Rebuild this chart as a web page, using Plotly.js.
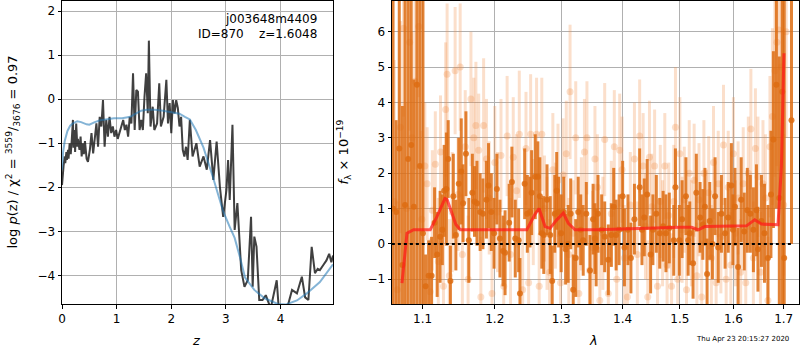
<!DOCTYPE html>
<html><head><meta charset="utf-8">
<script src="https://cdn.plot.ly/plotly-3.0.1.min.js"></script>
<style>html,body{margin:0;padding:0;background:#fff}#plot{width:800px;height:350px}</style>
</head><body><div id="plot"></div>
<script>
// ---- left panel: redshift PDF ----
const zGrid = [0.0,0.01,0.03,0.05,0.06,0.08,0.09,0.11,0.12,0.14,0.16,0.18,0.2,0.21,0.23,0.24,0.26,0.28,0.29,0.32,0.34,0.36,0.38,0.40,0.42,0.45,0.475,0.51,0.54,0.57,0.6,0.63,0.66,0.69,0.72,0.75,0.78,0.81,0.84,0.87,0.9,0.93,0.96,0.99,1.02,1.05,1.08,1.12,1.15,1.18,1.21,1.24,1.27,1.30,1.33,1.36,1.39,1.42,1.45,1.48,1.51,1.54,1.57,1.59,1.62,1.66,1.69,1.74,1.78,1.81,1.86,1.91,1.94,1.97,2.0,2.03,2.06,2.09,2.12,2.15,2.18,2.21,2.24,2.27,2.30,2.34,2.39,2.46,2.52,2.59,2.65,2.71,2.77,2.83,2.89,2.95,3.01,3.04,3.07,3.12,3.16,3.21,3.28,3.34,3.40,3.46,3.49,3.52,3.56,3.61,3.67,3.73,3.82,3.93,3.97,4.05,4.12,4.21,4.30,4.39,4.45,4.51,4.57,4.63,4.68,4.72,4.78,4.84,4.89,4.93,4.96];
const logPz = [-1.95,-1.7,-1.5,-1.3,-1.45,-1.2,-1.38,-1.15,-1.35,-1.0,-1.25,-0.9,-0.47,-1.1,-0.7,-1.2,-0.55,-1.08,-0.9,-1.15,-0.85,-1.3,-1.0,-1.25,-0.95,-1.35,-1.42,-1.15,-0.77,-1.23,-0.93,-0.55,-1.08,-0.4,-0.62,-0.02,-1.08,-0.47,-0.85,-0.4,-0.77,-0.62,-0.85,-0.7,-0.9,-0.77,-0.6,-0.47,-0.7,-0.58,-0.85,-0.4,-0.55,0.59,-0.7,0.21,0.17,-0.7,-0.47,-0.7,0.06,0.59,-0.32,1.33,-0.62,-0.17,-0.7,-0.55,0.36,-0.62,-0.4,0.44,-0.55,-0.09,-0.77,-0.02,-0.32,-0.02,-0.2,-0.62,-0.4,-1.15,-1.3,-1.08,-1.38,-0.47,-1.3,-1.0,-1.53,-1.30,-1.6,-0.93,-1.83,-0.96,-1.99,-2.67,-2.06,-1.38,-2.29,-0.58,-2.97,-2.36,-3.88,-4.26,-4.11,-2.67,-4.26,-3.12,-3.35,-4.56,-4.56,-4.45,-4.75,-4.11,-4.8,-4.8,-4.75,-4.33,-4.41,-4.03,-4.5,-4.56,-3.35,-3.95,-3.85,-3.88,-3.77,-3.66,-3.51,-3.7,-3.55];
const zSmooth = [0,0.02,0.05,0.1,0.15,0.2,0.28,0.35,0.45,0.5,0.6,0.7,0.8,0.95,1.1,1.25,1.35,1.45,1.55,1.7,1.85,2.0,2.15,2.25,2.34,2.45,2.59,2.77,2.95,3.07,3.16,3.26,3.35,3.52,3.71,3.95,4.1,4.3,4.48,4.72,4.9,4.96];
const logPzSmooth = [-1.6,-1.2,-0.95,-0.72,-0.6,-0.55,-0.5,-0.52,-0.57,-0.58,-0.52,-0.48,-0.46,-0.43,-0.43,-0.4,-0.33,-0.26,-0.24,-0.24,-0.26,-0.29,-0.33,-0.4,-0.46,-0.7,-1.1,-1.8,-2.55,-2.9,-3.15,-3.6,-4.05,-4.33,-4.52,-4.65,-4.66,-4.57,-4.41,-4.15,-3.85,-3.75];

// ---- right panel: spectrum ----
const lamD = [1.0615,1.0655,1.0695,1.0735,1.077,1.081,1.085,1.0885,1.0925,1.0965,1.1005,1.104,1.108,1.112,1.116,1.1195,1.1235,1.1265,1.129,1.132,1.1345,1.1375,1.1415,1.145,1.149,1.1525,1.155,1.159,1.163,1.168,1.171,1.1745,1.179,1.183,1.188,1.191,1.195,1.199,1.203,1.2075,1.212,1.215,1.221,1.225,1.23,1.235,1.237,1.244,1.248,1.252,1.2545,1.26,1.264,1.267,1.27,1.273,1.278,1.283,1.286,1.29,1.293,1.296,1.30,1.304,1.307,1.311,1.315,1.319,1.323,1.327,1.331,1.335,1.34,1.346,1.351,1.354,1.356,1.359,1.365,1.37,1.376,1.381,1.385,1.389,1.394,1.40,1.403,1.409,1.414,1.42,1.429,1.433,1.437,1.442,1.448,1.452,1.458,1.464,1.47,1.475,1.481,1.489,1.492,1.499,1.504,1.511,1.515,1.518,1.524,1.53,1.537,1.542,1.546,1.55,1.555,1.56,1.565,1.571,1.577,1.584,1.59,1.596,1.599,1.603,1.609,1.615,1.621,1.627,1.633,1.639,1.645,1.648,1.655,1.661,1.668,1.674,1.679,1.685,1.691,1.697,1.701,1.716];
const fluxD = [1.0,0.9,2.7,-0.6,1.1,2.4,2.8,1.05,4.5,2.2,0.3,-1.2,-0.9,-0.9,0.6,-0.3,0.2,0.4,1.5,1.55,2.4,-1.05,1.35,0.25,1.7,2.05,1.15,2.55,0.1,1.45,1.2,1.15,0.9,0.85,1.25,1.65,0.9,0.3,1.55,0.15,-0.2,-0.25,0.6,1.75,0.15,0.1,-1.4,1.7,0.85,0.9,1.45,1.9,1.9,1.35,0.3,0.25,1.25,0.25,-1.05,0.85,1.5,0.9,0.3,0.9,-0.15,0.0,0.85,-1.3,-0.4,0.9,0.4,0.1,0.85,-0.75,0.7,0.15,-0.1,0.85,0.4,0.2,-0.45,0.25,1.05,0.25,0.4,1.35,-0.1,0.4,-0.4,0.7,1.6,0.4,0.75,1.4,-0.3,0.4,0.85,0.3,0.5,0.3,0.45,0.1,1.6,0.1,0.7,1.35,0.1,0.3,-0.55,1.45,0.75,0.55,1.05,-0.85,0.65,0.0,1.35,-0.1,0.85,0.3,0.75,1.65,0.4,1.05,-0.65,1.25,0.35,0.95,0.85,0.4,0.95,-0.15,0.65,0.3,-0.4,1.4,2.95,4.5,1.3,4.3,-0.4,3.5];
const errD = [8.5,2.6,8.0,4.5,6.5,7.0,9.0,3.6,8.0,6.0,7.0,0.9,1.0,1.1,1.0,1.2,1.3,1.0,1.3,1.6,1.1,1.0,1.2,1.0,1.3,1.5,1.1,1.2,1.2,1.1,1.0,1.2,1.1,1.0,1.1,1.2,1.1,1.0,1.0,1.1,1.0,1.2,1.1,1.0,1.1,0.9,1.0,1.0,1.1,1.0,1.2,1.2,1.0,1.1,1.0,1.1,1.0,1.1,1.0,1.1,1.1,1.0,1.1,1.0,1.0,1.1,1.0,1.0,1.1,1.0,1.0,1.0,0.9,1.0,1.0,1.0,1.1,1.1,1.0,1.0,1.0,0.9,1.1,1.0,1.0,1.0,1.1,1.0,1.0,1.0,1.1,1.0,1.1,1.0,1.1,1.0,1.1,1.0,1.0,1.1,1.0,1.0,1.1,1.0,1.1,1.1,1.0,0.9,1.0,1.1,1.0,1.0,1.1,1.0,1.1,1.0,1.1,1.0,1.1,1.0,1.0,1.2,1.0,1.1,1.1,1.2,1.1,1.2,1.1,1.2,1.3,1.2,1.3,1.4,1.5,1.8,2.5,3.5,4.0,6.0,9.0,3.5];

const lamL = [1.063,1.067,1.071,1.075,1.079,1.083,1.086,1.09,1.095,1.099,1.103,1.106,1.11,1.113,1.117,1.121,1.124,1.128,1.131,1.133,1.136,1.14,1.144,1.148,1.151,1.154,1.158,1.162,1.166,1.17,1.173,1.177,1.18,1.184,1.188,1.192,1.196,1.20,1.204,1.209,1.213,1.218,1.223,1.227,1.232,1.236,1.241,1.246,1.25,1.253,1.257,1.262,1.266,1.27,1.274,1.278,1.282,1.287,1.291,1.295,1.299,1.303,1.308,1.312,1.314,1.319,1.323,1.328,1.332,1.337,1.341,1.345,1.35,1.354,1.358,1.362,1.367,1.37,1.376,1.381,1.386,1.39,1.395,1.399,1.403,1.408,1.413,1.42,1.425,1.429,1.435,1.439,1.443,1.446,1.45,1.455,1.46,1.465,1.469,1.473,1.477,1.48,1.485,1.489,1.492,1.496,1.50,1.504,1.508,1.512,1.517,1.521,1.526,1.531,1.535,1.54,1.544,1.549,1.553,1.558,1.562,1.567,1.571,1.576,1.581,1.586,1.59,1.595,1.60,1.604,1.609,1.614,1.619,1.624,1.629,1.634,1.639,1.643,1.648,1.653,1.658,1.663,1.668,1.672,1.677,1.682,1.686,1.69,1.695,1.70,1.705];
const fluxL = [1.2,-1.3,3.3,6.1,1.0,5.7,3.0,4.6,6.15,0.7,2.2,1.7,-1.35,0.95,2.25,-0.5,2.6,-1.2,3.8,4.8,-0.9,0.9,4.9,1.4,5.0,-0.3,2.75,-1.0,4.1,3.0,3.35,2.65,-1.5,3.35,2.4,1.3,-1.4,2.3,0.9,2.5,-1.2,3.05,-0.3,2.45,1.5,3.1,-1.3,2.7,-1.1,3.1,0.9,3.1,-1.2,3.1,1.0,0.3,-0.8,2.1,0.8,1.8,-1.1,1.95,2.55,-0.3,4.3,0.3,3.0,-1.4,0.85,2.6,3.0,-0.75,-0.1,2.4,1.6,-1.6,0.3,2.95,-1.4,0.85,2.75,-1.0,2.65,2.1,-0.4,-1.5,1.1,2.4,-0.3,3.05,2.2,0.5,-1.5,2.45,1.05,2.2,-1.2,1.2,0.3,2.2,-0.6,0.8,-1.2,1.2,3.3,-1.0,2.55,0.4,1.25,-1.3,2.0,0.3,1.8,-0.9,1.25,-1.5,2.0,0.6,1.45,-0.4,2.3,-1.1,1.7,0.2,2.8,-1.0,1.6,-0.6,2.55,0.3,1.3,-0.8,1.7,-1.1,2.0,3.25,-0.4,2.7,1.9,-0.8,1.7,1.3,-1.6,2.75,3.6,4.9,5.7,6.05,5.0,1.1,6.0];
const errL = [4,2.5,3,2.5,3,2.5,3,2.5,2,2.5,1.8,1.6,1.5,1.7,1.5,1.8,1.6,1.7,1.9,2.0,1.6,1.7,1.8,1.6,1.8,1.7,1.6,1.8,1.9,1.7,1.8,1.6,1.7,1.9,1.7,1.6,1.8,1.6,1.7,1.6,1.8,1.7,1.6,1.7,1.6,1.8,1.7,1.6,1.6,1.7,1.5,1.6,1.5,1.6,1.5,1.6,1.5,1.6,1.5,1.6,1.5,1.6,1.5,1.6,1.9,1.5,1.6,1.5,1.6,1.5,1.6,1.5,1.6,1.5,1.5,1.5,1.6,1.6,1.5,1.5,1.6,1.5,1.6,1.5,1.5,1.6,1.5,1.6,1.5,1.6,1.5,1.5,1.6,1.6,1.5,1.6,1.5,1.6,1.5,1.5,1.6,1.5,1.5,1.6,1.7,1.5,1.6,1.5,1.5,1.6,1.5,1.5,1.6,1.5,1.6,1.6,1.5,1.5,1.6,1.5,1.6,1.5,1.5,1.6,1.7,1.5,1.6,1.5,1.6,1.5,1.6,1.5,1.6,1.6,1.6,1.7,1.6,1.7,1.7,1.7,1.8,1.8,1.8,2.0,2.5,3.0,3.5,4.0,4.0,2.0,3.0];

const lamModel = [1.0730,1.0758,1.0795,1.0882,1.1102,1.1192,1.1240,1.1300,1.1330,1.1370,1.1396,1.1450,1.1511,1.2473,1.2548,1.2600,1.2658,1.2710,1.2750,1.2827,1.2931,1.3034,1.3113,1.3219,1.3569,1.5000,1.5213,1.5334,1.5458,1.6253,1.6416,1.6549,1.6715,1.6883,1.6952,1.6985,1.7005];
const fluxModel = [-1.11,-0.45,0.30,0.40,0.40,0.77,1.0,1.28,1.25,1.05,0.87,0.55,0.40,0.40,0.68,0.85,1.0,0.7,0.49,0.44,0.68,0.87,0.58,0.40,0.40,0.47,0.47,0.40,0.49,0.51,0.68,0.56,0.54,0.54,2.18,4.26,5.39];

const zeroLam = [1.06, 1.72];
const zeroFlux = [0, 0];

const xTicksL = [0,1,2,3,4];
const yTicksL = [-4,-3,-2,-1,0,1,2];
const lamTicks = [1.1,1.2,1.3,1.4,1.5,1.6,1.7];
const lamTickText = ['1.1','1.2','1.3','1.4','1.5','1.6','1.7'];
const yTicksR = [-1,0,1,2,3,4,5,6];

const FONT = 'DejaVu Sans, sans-serif';
const light = 'rgba(240,140,70,0.28)';
const dark = 'rgba(221,108,18,0.85)';

const traces = [
  {x:zGrid, y:logPz, xaxis:'x', yaxis:'y', mode:'lines', line:{color:'rgba(30,30,30,0.85)', width:2}, hoverinfo:'skip'},
  {x:zSmooth, y:logPzSmooth, xaxis:'x', yaxis:'y', mode:'lines', line:{color:'rgba(31,119,180,0.55)', width:2}, hoverinfo:'skip'},
  {x:lamL, y:fluxL, xaxis:'x2', yaxis:'y2', mode:'markers', marker:{color:light, size:7},
   error_y:{type:'data', array:errL, visible:true, thickness:3, width:0, color:light}},
  {x:lamD, y:fluxD, xaxis:'x2', yaxis:'y2', mode:'markers', marker:{color:dark, size:6},
   error_y:{type:'data', array:errD, visible:true, thickness:3, width:0, color:dark}},
  {x:lamModel, y:fluxModel, xaxis:'x2', yaxis:'y2', mode:'lines', line:{color:'rgba(255,25,25,0.72)', width:3}},
  {x:zeroLam, y:zeroFlux, xaxis:'x2', yaxis:'y2', mode:'lines', line:{color:'#000', width:2, dash:'dot'}}
];

const axCommon = {showline:true, mirror:true, linecolor:'#000', linewidth:1, ticks:'outside', ticklen:3.5, tickwidth:1, tickcolor:'#000',
  showgrid:true, gridcolor:'#b0b0b0', gridwidth:1, zeroline:false, tickfont:{family:FONT, size:12, color:'#000'}};

const layout = {
  width:800, height:350, margin:{l:62, r:1, t:1, b:46}, showlegend:false,
  paper_bgcolor:'#fff', plot_bgcolor:'#fff', font:{family:FONT, size:12, color:'#000'},
  xaxis: Object.assign({}, axCommon, {domain:[0,0.3677], range:[0,4.96], tickvals:xTicksL, anchor:'y'}),
  yaxis: Object.assign({}, axCommon, {range:[-4.65,2.23], tickvals:yTicksL, anchor:'x'}),
  xaxis2: Object.assign({}, axCommon, {domain:[0.4478,1], type:'log', range:[0.02539,0.23845], tickvals:lamTicks, ticktext:lamTickText, anchor:'y2'}),
  yaxis2: Object.assign({}, axCommon, {range:[-1.70,6.87], tickvals:yTicksR, anchor:'x2'}),
  annotations:[
    {xref:'x domain', yref:'y domain', x:0.948, y:0.94, xanchor:'right', yanchor:'middle', showarrow:false, text:'j003648m4409', font:{family:FONT,size:12}},
    {xref:'x domain', yref:'y domain', x:0.948, y:0.89, xanchor:'right', yanchor:'middle', showarrow:false, text:'ID=870\u00a0\u00a0\u00a0\u00a0z=1.6048', font:{family:FONT,size:12}},
    {xref:'paper', yref:'paper', x:-0.0678, y:0.50, xanchor:'center', yanchor:'middle', textangle:-90, showarrow:false,
     text:'log <i>p</i>(z) / χ<sup>2</sup> = <sup>3559</sup>/<sub>3676</sub> = 0.97', font:{family:FONT,size:13}},
    {xref:'paper', yref:'paper', x:0.3813, y:0.50, xanchor:'center', yanchor:'middle', textangle:-90, showarrow:false,
     text:'<i>f</i><sub>λ</sub> × 10<sup>−19</sup>', font:{family:FONT,size:13}},
    {xref:'paper', yref:'paper', x:0.183, y:-0.122, xanchor:'center', yanchor:'middle', showarrow:false, text:'<i>z</i>', font:{family:FONT,size:13}},
    {xref:'paper', yref:'paper', x:0.7218, y:-0.122, xanchor:'center', yanchor:'middle', showarrow:false, text:'<i>λ</i>', font:{family:FONT,size:13}},
    {xref:'paper', yref:'paper', x:0.9227, y:-0.1155, xanchor:'center', yanchor:'middle', showarrow:false, text:'Thu Apr 23 20:15:27 2020', font:{family:FONT,size:7}}
  ]
};
Plotly.newPlot('plot', traces, layout, {displayModeBar:false, staticPlot:true});
</script></body></html>
